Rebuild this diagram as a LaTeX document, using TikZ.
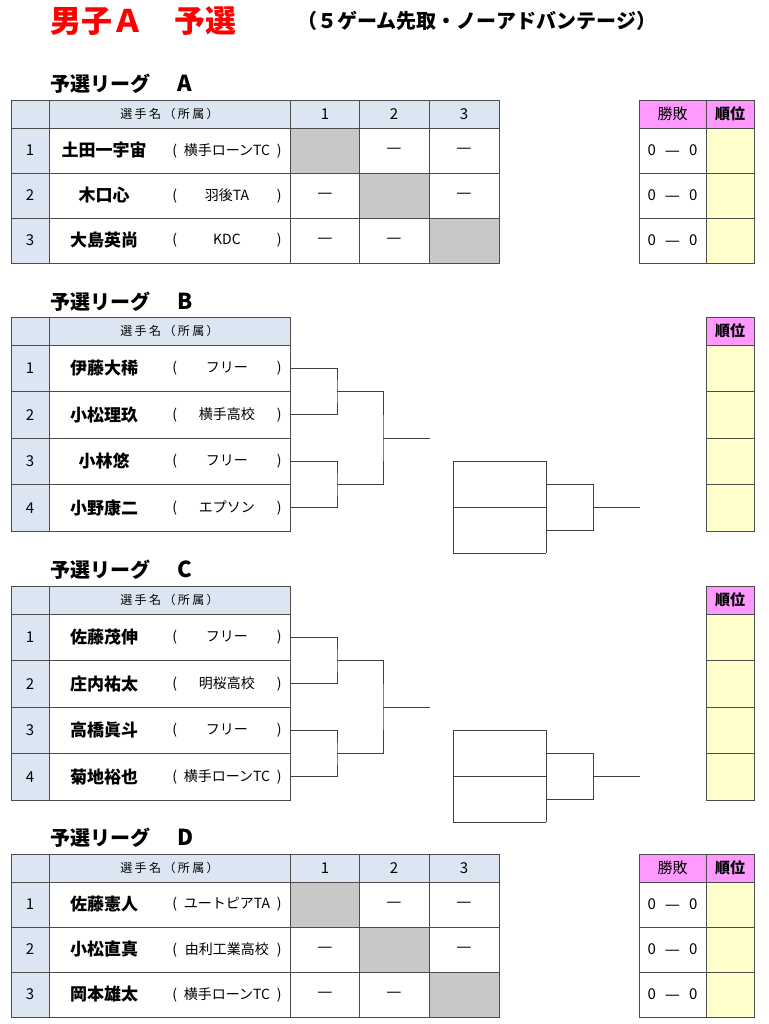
\documentclass[tikz,border=0pt]{standalone}
\usepackage{fontspec}
\setmainfont{Noto Sans CJK JP}
\usepackage{xcolor}
\usepackage{tikz}
\definecolor{Hb}{HTML}{DCE6F2}
\definecolor{Pk}{HTML}{FF99FF}
\definecolor{Ry}{HTML}{FFFFCC}
\definecolor{Sg}{HTML}{C8C8C8}
\definecolor{Tr}{HTML}{FF0000}

\begin{document}
\begin{tikzpicture}[x=1pt,y=-1pt]
\tikzstyle{tcell}=[draw=black!70, line width=0.8pt, shape=rectangle, inner sep=0pt, outer sep=0pt]
\tikzstyle{hdr}=[minimum height=28]
\tikzstyle{rowA}=[minimum height=45]
\tikzstyle{rowB}=[minimum height=46.5]
\tikzstyle{numc}=[tcell, fill=Hb, minimum width=38, font=\fontsize{15}{15}\selectfont]
\tikzstyle{namec}=[tcell, fill=white, minimum width=241]
\tikzstyle{resc}=[tcell, fill=white, minimum width=70, font=\fontsize{17}{17}\selectfont]
\tikzstyle{selfc}=[resc, fill=Sg]
\tikzstyle{rhd}=[resc, fill=Hb, font=\fontsize{15}{15}\selectfont]
\tikzstyle{wlc}=[tcell, fill=white, minimum width=67, font=\fontsize{15}{15}\selectfont]
\tikzstyle{rkc}=[tcell, fill=Ry, minimum width=48, font=\fontsize{15}{15}\selectfont\bfseries]
\tikzstyle{plname}=[inner sep=0pt, font=\fontsize{17}{17}\selectfont\bfseries]
\tikzstyle{plaff}=[inner sep=0pt, font=\fontsize{14}{14}\selectfont]
\tikzstyle{colhd}=[font=\fontsize{12}{12}\selectfont\addfontfeature{LetterSpace=20}]
\tikzstyle{secttl}=[anchor=west, inner sep=0pt, font=\fontsize{20}{20}\selectfont\bfseries]
\tikzstyle{brk}=[draw=black!75, line width=0.9pt]
\newcommand{\nog}{\raisebox{-2pt}{—}}
\newcommand{\wl}{0\hspace{9pt}\raisebox{-1.5pt}{\fontsize{17}{17}\selectfont —}\hspace{9pt}0}
\fill[white] (0,0) rectangle (768,1024);
\useasboundingbox (0,0) rectangle (768,1024);
%
\node[anchor=west, inner sep=0pt, text=Tr, font=\fontsize{31}{31}\selectfont\bfseries](maintitle) at (50,21){男子Ａ　予選};
\node[inner sep=0pt, font=\fontsize{20}{20}\selectfont\bfseries](subtitle) at (477,21){（５ゲーム先取・ノーアドバンテージ）};
%
\node[secttl](ttla) at (50,84){予選リーグ\hspace{27pt}{\fontsize{22}{22}\selectfont A}};
\node[numc,hdr](ahn) at (30,114){};
\node[namec,hdr,fill=Hb,colhd](ahp) at (169.5,114){選手名（所属）};
\node[rhd,hdr](ah1) at (325,114){1};
\node[rhd,hdr](ah2) at (394,114){2};
\node[rhd,hdr](ah3) at (464,114){3};
\node[wlc,hdr,fill=Pk](ahw) at (672.5,114){勝敗};
\node[rkc,hdr,fill=Pk](ahr) at (730,114){順位};
%
\node[numc,rowA](a1n) at (30,150.5){1};
\node[namec,rowA](a1) at (169.5,150.5){};
\node[plname](a1p) at (104,150.5){土田一宇宙};
\node[plaff](a1a) at (227,150.5){(\makebox[100pt]{横手ローンTC})};
\node[selfc,rowA](a11) at (325,150.5){};
\node[resc,rowA](a12) at (394,150.5){\nog};
\node[resc,rowA](a13) at (464,150.5){\nog};
\node[wlc,rowA](a1w) at (672.5,150.5){\wl};
\node[rkc,rowA](a1r) at (730,150.5){};
%
\node[numc,rowA](a2n) at (30,195.5){2};
\node[namec,rowA](a2) at (169.5,195.5){};
\node[plname](a2p) at (104,195.5){木口心};
\node[plaff](a2a) at (227,195.5){(\makebox[100pt]{羽後TA})};
\node[resc,rowA](a21) at (325,195.5){\nog};
\node[selfc,rowA](a22) at (394,195.5){};
\node[resc,rowA](a23) at (464,195.5){\nog};
\node[wlc,rowA](a2w) at (672.5,195.5){\wl};
\node[rkc,rowA](a2r) at (730,195.5){};
%
\node[numc,rowA](a3n) at (30,240.5){3};
\node[namec,rowA](a3) at (169.5,240.5){};
\node[plname](a3p) at (104,240.5){大島英尚};
\node[plaff](a3a) at (227,240.5){(\makebox[100pt]{KDC})};
\node[resc,rowA](a31) at (325,240.5){\nog};
\node[resc,rowA](a32) at (394,240.5){\nog};
\node[selfc,rowA](a33) at (464,240.5){};
\node[wlc,rowA](a3w) at (672.5,240.5){\wl};
\node[rkc,rowA](a3r) at (730,240.5){};
%
\node[secttl](ttlb) at (50,302){予選リーグ\hspace{27pt}{\fontsize{22}{22}\selectfont B}};
\node[numc,hdr](bhn) at (30,331){};
\node[namec,hdr,fill=Hb,colhd](bhp) at (169.5,331){選手名（所属）};
\node[rkc,hdr,fill=Pk](bhr) at (730,331){順位};
%
\node[numc,rowB](b1n) at (30,368.25){1};
\node[namec,rowB](b1) at (169.5,368.25){};
\node[plname](b1p) at (104,368.25){伊藤大稀};
\node[plaff](b1a) at (227,368.25){(\makebox[100pt]{フリー})};
\node[rkc,rowB](b1r) at (730,368.25){};
\node[numc,rowB](b2n) at (30,414.75){2};
\node[namec,rowB](b2) at (169.5,414.75){};
\node[plname](b2p) at (104,414.75){小松理玖};
\node[plaff](b2a) at (227,414.75){(\makebox[100pt]{横手高校})};
\node[rkc,rowB](b2r) at (730,414.75){};
\node[numc,rowB](b3n) at (30,461.25){3};
\node[namec,rowB](b3) at (169.5,461.25){};
\node[plname](b3p) at (104,461.25){小林悠};
\node[plaff](b3a) at (227,461.25){(\makebox[100pt]{フリー})};
\node[rkc,rowB](b3r) at (730,461.25){};
\node[numc,rowB](b4n) at (30,507.75){4};
\node[namec,rowB](b4) at (169.5,507.75){};
\node[plname](b4p) at (104,507.75){小野康二};
\node[plaff](b4a) at (227,507.75){(\makebox[100pt]{エプソン})};
\node[rkc,rowB](b4r) at (730,507.75){};
%
\coordinate (bj12) at (337,391.5);
\coordinate (bj34) at (337,484.5);
\coordinate (bjf) at (383,438);
\coordinate (bout) at (430,438);
\draw[brk] (b1.east) -| (bj12) |- (b2.east);
\draw[brk] (b3.east) -| (bj34) |- (b4.east);
\draw[brk] (bj12) -| (bjf) |- (bj34);
\draw[brk] (bjf) -- (bout);
%
\coordinate (bs1) at (453,461.25);
\coordinate (bs2) at (453,507.75);
\coordinate (bs3) at (453,553);
\coordinate (bt1) at (546,461.25);
\coordinate (bt2) at (546,507.75);
\coordinate (bt3) at (546,553);
\coordinate (bu1) at (593,484.5);
\coordinate (bu2) at (593,530.5);
\coordinate (bfin) at (640,507.75);
\draw[brk] (bs1) -- (bs3);
\draw[brk] (bs1) -- (bt1);
\draw[brk] (bs2) -- (bt2);
\draw[brk] (bs3) -- (bt3);
\draw[brk] (bt1) -- (bt3);
\draw[brk] (bt1 |- bu1) -- (bu1) -- (bu2) -- (bt1 |- bu2);
\draw[brk] (bu1 |- bfin) -- (bfin);
%
\node[secttl](ttlc) at (50,570){予選リーグ\hspace{27pt}{\fontsize{22}{22}\selectfont C}};
\node[numc,hdr](chn) at (30,600){};
\node[namec,hdr,fill=Hb,colhd](chp) at (169.5,600){選手名（所属）};
\node[rkc,hdr,fill=Pk](chr) at (730,600){順位};
%
\node[numc,rowB](c1n) at (30,637.25){1};
\node[namec,rowB](c1) at (169.5,637.25){};
\node[plname](c1p) at (104,637.25){佐藤茂伸};
\node[plaff](c1a) at (227,637.25){(\makebox[100pt]{フリー})};
\node[rkc,rowB](c1r) at (730,637.25){};
\node[numc,rowB](c2n) at (30,683.75){2};
\node[namec,rowB](c2) at (169.5,683.75){};
\node[plname](c2p) at (104,683.75){庄内祐太};
\node[plaff](c2a) at (227,683.75){(\makebox[100pt]{明桜高校})};
\node[rkc,rowB](c2r) at (730,683.75){};
\node[numc,rowB](c3n) at (30,730.25){3};
\node[namec,rowB](c3) at (169.5,730.25){};
\node[plname](c3p) at (104,730.25){高橋眞斗};
\node[plaff](c3a) at (227,730.25){(\makebox[100pt]{フリー})};
\node[rkc,rowB](c3r) at (730,730.25){};
\node[numc,rowB](c4n) at (30,776.75){4};
\node[namec,rowB](c4) at (169.5,776.75){};
\node[plname](c4p) at (104,776.75){菊地裕也};
\node[plaff](c4a) at (227,776.75){(\makebox[100pt]{横手ローンTC})};
\node[rkc,rowB](c4r) at (730,776.75){};
%
\coordinate (cj12) at (337,660.5);
\coordinate (cj34) at (337,753.5);
\coordinate (cjf) at (383,707);
\coordinate (cout) at (430,707);
\draw[brk] (c1.east) -| (cj12) |- (c2.east);
\draw[brk] (c3.east) -| (cj34) |- (c4.east);
\draw[brk] (cj12) -| (cjf) |- (cj34);
\draw[brk] (cjf) -- (cout);
%
\coordinate (cs1) at (453,730.25);
\coordinate (cs2) at (453,776.75);
\coordinate (cs3) at (453,822);
\coordinate (ct1) at (546,730.25);
\coordinate (ct2) at (546,776.75);
\coordinate (ct3) at (546,822);
\coordinate (cu1) at (593,753.5);
\coordinate (cu2) at (593,799.5);
\coordinate (cfin) at (640,776.75);
\draw[brk] (cs1) -- (cs3);
\draw[brk] (cs1) -- (ct1);
\draw[brk] (cs2) -- (ct2);
\draw[brk] (cs3) -- (ct3);
\draw[brk] (ct1) -- (ct3);
\draw[brk] (ct1 |- cu1) -- (cu1) -- (cu2) -- (ct1 |- cu2);
\draw[brk] (cu1 |- cfin) -- (cfin);
%
\node[secttl](ttld) at (50,838){予選リーグ\hspace{27pt}{\fontsize{22}{22}\selectfont D}};
\node[numc,hdr](dhn) at (30,868){};
\node[namec,hdr,fill=Hb,colhd](dhp) at (169.5,868){選手名（所属）};
\node[rhd,hdr](dh1) at (325,868){1};
\node[rhd,hdr](dh2) at (394,868){2};
\node[rhd,hdr](dh3) at (464,868){3};
\node[wlc,hdr,fill=Pk](dhw) at (672.5,868){勝敗};
\node[rkc,hdr,fill=Pk](dhr) at (730,868){順位};
%
\node[numc,rowA](d1n) at (30,904.5){1};
\node[namec,rowA](d1) at (169.5,904.5){};
\node[plname](d1p) at (104,904.5){佐藤憲人};
\node[plaff](d1a) at (227,904.5){(\makebox[100pt]{ユートピアTA})};
\node[selfc,rowA](d11) at (325,904.5){};
\node[resc,rowA](d12) at (394,904.5){\nog};
\node[resc,rowA](d13) at (464,904.5){\nog};
\node[wlc,rowA](d1w) at (672.5,904.5){\wl};
\node[rkc,rowA](d1r) at (730,904.5){};
%
\node[numc,rowA](d2n) at (30,949.5){2};
\node[namec,rowA](d2) at (169.5,949.5){};
\node[plname](d2p) at (104,949.5){小松直真};
\node[plaff](d2a) at (227,949.5){(\makebox[100pt]{由利工業高校})};
\node[resc,rowA](d21) at (325,949.5){\nog};
\node[selfc,rowA](d22) at (394,949.5){};
\node[resc,rowA](d23) at (464,949.5){\nog};
\node[wlc,rowA](d2w) at (672.5,949.5){\wl};
\node[rkc,rowA](d2r) at (730,949.5){};
%
\node[numc,rowA](d3n) at (30,994.5){3};
\node[namec,rowA](d3) at (169.5,994.5){};
\node[plname](d3p) at (104,994.5){岡本雄太};
\node[plaff](d3a) at (227,994.5){(\makebox[100pt]{横手ローンTC})};
\node[resc,rowA](d31) at (325,994.5){\nog};
\node[resc,rowA](d32) at (394,994.5){\nog};
\node[selfc,rowA](d33) at (464,994.5){};
\node[wlc,rowA](d3w) at (672.5,994.5){\wl};
\node[rkc,rowA](d3r) at (730,994.5){};
%
\end{tikzpicture}
\end{document}
